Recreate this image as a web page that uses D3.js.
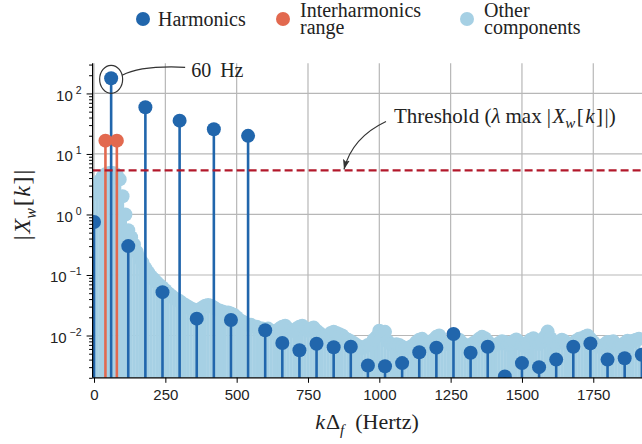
<!DOCTYPE html>
<html><head><meta charset="utf-8">
<script src="https://cdn.jsdelivr.net/npm/d3@7"></script>
<style>body{margin:0;background:#fff}svg{display:block}</style>
</head><body>
<svg id="c" width="642" height="444"></svg>
<script>
// ---------- data ----------
const xTicks = [0, 250, 500, 750, 1000, 1250, 1500, 1750];
const yTicks = [0.01, 0.1, 1, 10, 100];
const yTickExp = ["\u22122", "\u22121", "0", "1", "2"];

const harmonicFreqs = [0, 60, 120, 180, 240, 300, 360, 420, 480, 540, 600, 660, 720, 780, 840, 900,
  960, 1020, 1080, 1140, 1200, 1260, 1320, 1380, 1440, 1500, 1560, 1620, 1680, 1740, 1800, 1860, 1920];
const harmonicValues = [0.75, 178, 0.30, 59, 0.052, 35.5, 0.019, 25.6, 0.018, 19.9, 0.0122, 0.0075, 0.0057, 0.0073, 0.0064, 0.0065,
  0.0032, 0.0031, 0.0035, 0.0053, 0.0063, 0.0106, 0.0052, 0.0065, 0.0021, 0.0035, 0.0030, 0.0040, 0.0065, 0.0074, 0.0040, 0.0042, 0.0048];

const interFreqs = [40, 80];
const interValues = [16.6, 16.6];

// other components, one bin every 10 Hz from 0 Hz
const otherStepHz = 10;
const otherValues = [
  2.2, 3.0, 3.6, 4.2, 4.6, 4.8, 4.9, 4.8, 4.5, 3.8, 2.0, 1.0,
  0.55, 0.42, 0.32, 0.24, 0.19, 0.16, 0.13, 0.11, 0.095, 0.085, 0.075, 0.068,
  0.062, 0.056, 0.05, 0.046, 0.042, 0.039, 0.037, 0.034, 0.032, 0.030, 0.028, 0.027,
  0.026, 0.027, 0.029, 0.031, 0.032, 0.031, 0.029, 0.027, 0.026, 0.025, 0.024, 0.024,
  0.023, 0.022, 0.020, 0.018, 0.017, 0.016, 0.015, 0.015, 0.014, 0.014, 0.013, 0.013,
  0.012, 0.013, 0.012, 0.011, 0.012, 0.013, 0.014, 0.0145, 0.013, 0.012, 0.012, 0.013,
  0.014, 0.0145, 0.013, 0.012, 0.013, 0.0135, 0.012, 0.011, 0.0095, 0.0095, 0.010, 0.011,
  0.0115, 0.011, 0.0105, 0.010, 0.009, 0.0085, 0.008, 0.0075, 0.007, 0.0065, 0.0062, 0.0065,
  0.007, 0.0072, 0.0085, 0.0095, 0.012, 0.010, 0.0115, 0.008, 0.0072, 0.0068, 0.0072, 0.007,
  0.0065, 0.006, 0.0062, 0.0065, 0.007, 0.0078, 0.0085, 0.0088, 0.0075, 0.007, 0.0078, 0.0085,
  0.0095, 0.010, 0.008, 0.0075, 0.0072, 0.0075, 0.007, 0.0078, 0.0085, 0.0075, 0.007, 0.0068,
  0.007, 0.0075, 0.008, 0.0088, 0.0095, 0.009, 0.008, 0.0072, 0.0068, 0.007, 0.0075, 0.008,
  0.0078, 0.007, 0.0072, 0.008, 0.0086, 0.0078, 0.007, 0.0065, 0.0075, 0.0085, 0.009, 0.008,
  0.0072, 0.008, 0.0095, 0.0116, 0.009, 0.0078, 0.0072, 0.0078, 0.0085, 0.008, 0.0072, 0.0068,
  0.0075, 0.0082, 0.0088, 0.009, 0.0095, 0.010, 0.0088, 0.0078, 0.007, 0.0065, 0.0068, 0.0072,
  0.0078, 0.0075, 0.008, 0.0072, 0.0065, 0.0068, 0.0075, 0.0082, 0.0078, 0.0082, 0.0085, 0.0088
];
const thresholdLambda = 0.03;

const legendLabels = [["Harmonics"], ["Interharmonics", "range"], ["Other", "components"]];

// ---------- styles ----------
const C_H = "#2166ac", C_I = "#e2694f", C_O = "#a6d0e4", C_T = "#b2182b", C_GRID = "#b7b7b7";
const SERIF = "'Liberation Serif','Times New Roman',serif";
const SANS = "'Liberation Sans',Arial,sans-serif";

const svg = d3.select("#c");
const L = 92.6, R = 664.6, T = 63.2, B = 377.8;
const x = d3.scaleLinear().domain([-5, 2000]).range([L, R]);
const y = d3.scaleLog().domain([0.002, 316]).range([B, T]);

svg.append("defs").append("clipPath").attr("id", "clip")
  .append("rect").attr("x", L).attr("y", T).attr("width", R - L).attr("height", B - T);
svg.select("defs").append("marker").attr("id", "arr").attr("viewBox", "-10 -5 12 10")
  .attr("refX", 0).attr("refY", 0).attr("markerWidth", 12).attr("markerHeight", 10)
  .attr("markerUnits", "userSpaceOnUse").attr("orient", "auto")
  .append("path").attr("d", "M0,0 L-10,-3.5 L-8,0 L-10,3.5 Z").attr("fill", "#333");

// grid
const grid = svg.append("g");
grid.selectAll("line.v").data(xTicks).join("line").attr("class", "v")
  .attr("x1", d => x(d)).attr("x2", d => x(d)).attr("y1", T).attr("y2", B)
  .attr("stroke", C_GRID).attr("stroke-width", 1.2);
grid.selectAll("line.h").data(yTicks).join("line").attr("class", "h")
  .attr("x1", L).attr("x2", R).attr("y1", d => y(d)).attr("y2", d => y(d))
  .attr("stroke", C_GRID).attr("stroke-width", 1.2);

const plot = svg.append("g").attr("clip-path", "url(#clip)");
const otherData = otherValues.map((v, i) => ({f: i * otherStepHz, v}));
function stems(data, color, w, r) {
  const g = plot.append("g");
  g.selectAll("line").data(data).join("line")
    .attr("x1", d => x(d.f)).attr("x2", d => x(d.f)).attr("y1", B).attr("y2", d => y(d.v))
    .attr("stroke", color).attr("stroke-width", w);
  g.selectAll("circle").data(data).join("circle")
    .attr("cx", d => x(d.f)).attr("cy", d => y(d.v)).attr("r", r).attr("fill", color);
}
stems(otherData, C_O, 3.2, 7);
stems(harmonicFreqs.map((f, i) => ({f, v: harmonicValues[i]})), C_H, 2.6, 7);
stems(interFreqs.map((f, i) => ({f, v: interValues[i]})), C_I, 2.6, 7);

// threshold
const thr = thresholdLambda * d3.max(harmonicValues);
plot.append("line").attr("x1", L).attr("x2", R).attr("y1", y(thr)).attr("y2", y(thr))
  .attr("stroke", C_T).attr("stroke-width", 2.2).attr("stroke-dasharray", "8,4");

// axes
const xAxis = svg.append("g").attr("transform", `translate(0,${B})`)
  .call(d3.axisBottom(x).tickValues(xTicks).tickSize(5).tickPadding(7).tickSizeOuter(0).tickFormat(d3.format("d")));
xAxis.select(".domain").attr("d", `M${L},0H${R}`).attr("stroke", "#000").attr("stroke-width", 1.2);
xAxis.selectAll("text").attr("font-family", SANS).attr("font-size", 15).attr("fill", "#222");

const minors = [];
[-3, -2, -1, 0, 1, 2].forEach(e => { for (let m = 2; m <= 9; m++) { const v = m * Math.pow(10, e); if (v >= 0.002 && v <= 316) minors.push(v); } });
const yMinor = svg.append("g").attr("transform", `translate(${L},0)`)
  .call(d3.axisLeft(y).tickValues(minors).tickSize(3.5).tickSizeOuter(0).tickFormat(""));
yMinor.select(".domain").remove();
const yAxis = svg.append("g").attr("transform", `translate(${L},0)`)
  .call(d3.axisLeft(y).tickValues(yTicks).tickSize(6).tickPadding(5).tickSizeOuter(0));
yAxis.select(".domain").attr("d", `M0,${T}V${B}`).attr("stroke", "#000").attr("stroke-width", 1.2);
yAxis.selectAll("text").each(function(d, i) {
  const t = d3.select(this).text(null).attr("font-family", SANS).attr("font-size", 15).attr("fill", "#222").attr("dy", "0.45em");
  t.append("tspan").text("10");
  t.append("tspan").attr("font-size", 10.5).attr("dy", -7).attr("dx", 3).text(yTickExp[i]);
});
svg.selectAll(".tick line").attr("stroke", "#000");

// axis labels
const xl = svg.append("text").attr("x", 367).attr("y", 429).attr("text-anchor", "middle")
  .attr("font-family", SERIF).attr("font-size", 22).attr("fill", "#222");
xl.append("tspan").attr("font-style", "italic").text("k");
xl.append("tspan").attr("dx", 1).text("\u0394");
xl.append("tspan").attr("font-style", "italic").attr("font-size", 15).attr("dy", 6).text("f");
xl.append("tspan").attr("dy", -6).attr("dx", 11).text("(Hertz)");

const yl = svg.append("text").attr("transform", "translate(30,205) rotate(-90)").attr("text-anchor", "middle")
  .attr("font-family", SERIF).attr("font-size", 24).attr("fill", "#222");
yl.append("tspan").text("|");
yl.append("tspan").attr("font-style", "italic").attr("dx", 2).text("X");
yl.append("tspan").attr("font-style", "italic").attr("font-size", 16).attr("dy", 6).text("w");
yl.append("tspan").attr("dy", -6).attr("dx", 2).text("[");
yl.append("tspan").attr("font-style", "italic").attr("dx", 1.5).text("k");
yl.append("tspan").attr("dx", 1.5).text("]");
yl.append("tspan").attr("dx", 2).text("|");

// legend
const legX = [143, 283, 467], legTextX = [158, 300, 484];
const colors = [C_H, C_I, C_O];
legendLabels.forEach((lines, i) => {
  svg.append("circle").attr("cx", legX[i]).attr("cy", 19).attr("r", 7).attr("fill", colors[i]);
  const t = svg.append("text").attr("font-family", SERIF).attr("font-size", 20).attr("fill", "#222");
  if (lines.length === 1) t.append("tspan").attr("x", legTextX[i]).attr("y", 26).text(lines[0]);
  else lines.forEach((s, j) => t.append("tspan").attr("x", legTextX[i]).attr("y", 17 + j * 17).text(s));
});

// 60 Hz annotation
const p60 = [x(harmonicFreqs[1]), y(harmonicValues[1])];
svg.append("ellipse").attr("cx", p60[0]).attr("cy", p60[1] + 1).attr("rx", 11.5).attr("ry", 14)
  .attr("fill", "none").attr("stroke", "#333").attr("stroke-width", 1.2);
svg.append("path").attr("d", `M${p60[0] + 11},${p60[1] - 3} Q${p60[0] + 30},${p60[1] - 13} ${p60[0] + 74},${p60[1] - 11}`)
  .attr("fill", "none").attr("stroke", "#333").attr("stroke-width", 1.2);
svg.append("text").attr("x", p60[0] + 80).attr("y", p60[1] - 1).attr("font-family", SERIF).attr("font-size", 20)
  .attr("fill", "#222").attr("xml:space", "preserve").text("60\u2009 Hz");

// threshold annotation
const ty = y(thr);
svg.append("path").attr("d", `M386,${ty - 49} Q352,${ty - 33} 344,${ty - 1}`)
  .attr("fill", "none").attr("stroke", "#333").attr("stroke-width", 1.2).attr("marker-end", "url(#arr)");
const tt = svg.append("text").attr("x", 394).attr("y", 123).attr("font-family", SERIF).attr("font-size", 21).attr("fill", "#222");
tt.append("tspan").text("Threshold (");
tt.append("tspan").attr("font-style", "italic").text("\u03bb");
tt.append("tspan").attr("dx", 5).text("max");
tt.append("tspan").attr("dx", 5).text("|");
tt.append("tspan").attr("font-style", "italic").attr("dx", 1.5).text("X");
tt.append("tspan").attr("font-style", "italic").attr("font-size", 15).attr("dy", 5).text("w");
tt.append("tspan").attr("dy", -5).attr("dx", 1.5).text("[");
tt.append("tspan").attr("font-style", "italic").attr("dx", 1.5).text("k");
tt.append("tspan").attr("dx", 1.5).text("]");
tt.append("tspan").attr("dx", 1.5).text("|)");
</script>
</body></html>
